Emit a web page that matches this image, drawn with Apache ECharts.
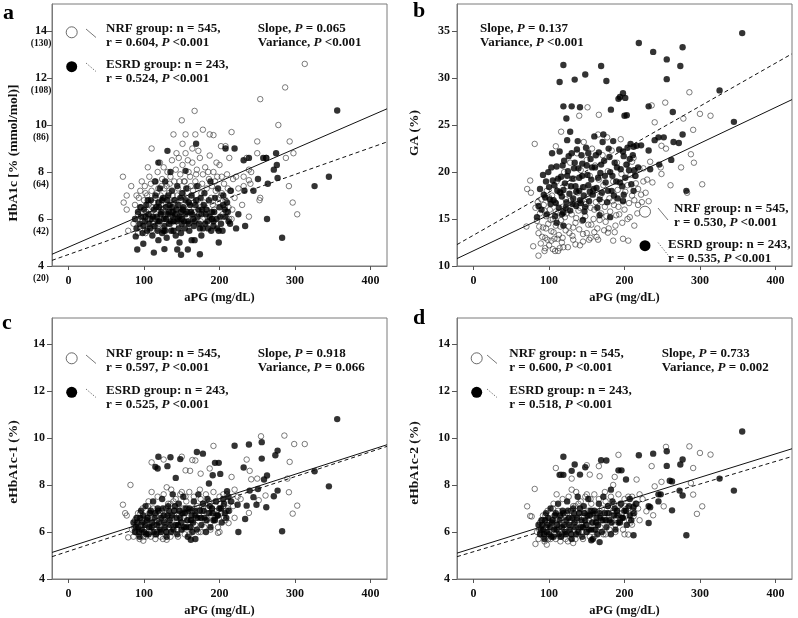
<!DOCTYPE html>
<html>
<head>
<meta charset="utf-8">
<script src="https://cdn.jsdelivr.net/npm/echarts@6/dist/echarts.min.js"></script>
<style>
  html, body { margin: 0; padding: 0; background: #fff; }
  #main { width: 798px; height: 618px; }
</style>
</head>
<body>
<div id="main"></div>
<script>
// tick values
var xTicks = [0, 100, 200, 300, 400];
var hbTicks = [4, 6, 8, 10, 12, 14];
var hbMmol = [20, 42, 64, 86, 108, 130];
var gaTicks = [10, 15, 20, 25, 30, 35];

// panel a: aPG vs HbA1c
var aNrf = [[313,12.6],[287,11.6],[254,11.1],[167,10.6],[150,10.2],[139,9.6],[178,9.8],[187,9.6],[155,9.6],[168,9.6],[216,9.7],[278,10.0],[110,9.0],[151,9.2],[164,9.0],[202,9.1],[208,9.1],[250,9.3],[293,9.3],[298,8.8],[250,8.8],[236,8.6],[262,8.6],[288,8.6],[213,8.6],[292,7.4],[253,6.8],[254,6.9],[297,6.7],[303,6.2],[239,6.1],[72,7.8],[83,7.4],[77,7.0],[73,6.7],[77,6.4],[79,5.5],[239,7.65],[242,8.0],[232,7.8],[192,9.57],[222,7.8],[239,8.1],[209,6.3],[213,6.0],[203,7.1],[232,7.4],[241,7.5],
  [88,6.6],[90,7.0],[92,6.2],[95,7.2],[96,6.5],[98,5.9],[100,6.8],[101,7.4],[103,6.3],[104,7.0],[106,6.6],[107,7.8],[108,6.0],[110,7.2],[111,6.5],[112,5.8],[114,7.6],[115,6.9],[116,6.2],[118,8.0],[119,7.3],[120,6.7],[121,5.9],[122,7.0],[124,7.7],[125,6.4],[126,8.2],[127,6.9],[128,6.1],[130,7.4],[131,8.0],[132,6.6],[133,7.1],[135,7.8],[136,6.3],[137,8.5],[138,7.0],[140,7.6],[141,6.8],[142,8.1],[143,6.2],[145,7.3],[146,8.6],[147,6.6],[148,7.9],[150,7.1],[151,8.3],[152,6.4],[154,7.6],[155,8.8],[156,6.9],[158,7.3],[159,8.0],[160,6.5],[161,7.8],[163,6.9],[164,8.4],[165,7.2],[167,6.3],[168,7.6],[170,8.1],[171,6.8],[172,7.4],[174,8.6],[175,6.5],[176,7.1],[178,7.9],[180,6.7],[181,8.2],[183,7.3],[184,6.1],[186,7.7],[187,8.7],[189,6.9],[190,7.4],[192,8.0],[193,6.4],[195,7.2],[197,7.8],[198,6.7],[200,8.3],[202,7.0],[204,6.2],[206,7.5],[208,6.8],[210,7.9],[212,6.5],[214,7.2],[216,6.0],[218,7.7],[220,6.9],[225,7.3],[230,6.6],[95,5.6],[102,5.4],[110,5.5],[125,5.6],[140,5.7],[160,5.8],[175,5.9],[190,6.0],[205,6.1],[150,6.0],[135,5.8],[118,5.6],[86,5.8],[92,5.4]];
var aNrfCore = [[93,6.9],[97,7.6],[99,6.1],[102,7.1],[105,6.0],[109,7.5],[113,6.7],[117,7.1],[119,5.8],[123,6.6],[127,7.3],[129,6.2],[134,7.5],[139,6.5],[144,7.0],[149,6.8],[153,7.6],[157,6.1],[162,7.4],[166,6.7],[169,7.9],[173,6.2],[177,7.5],[182,6.4],[185,8.0],[191,6.6],[194,7.6],[199,6.9],[203,7.8],[207,6.5],[211,7.3],[217,6.4],[105,8.2],[121,8.4],[143,8.8],[158,8.5],[172,8.9],[196,8.4],[123,7.4],[147,7.6]];
var aEsrd = [[356,10.62],[131,8.9],[169,9.2],[208,9.0],[220,9.0],[275,8.8],[262,8.6],[258,8.6],[232,8.5],[239,8.6],[276,8.3],[272,8.1],[277,7.75],[264,7.5],[251,7.7],[245,7.2],[233,7.2],[326,7.4],[345,7.8],[263,6.0],[283,5.2],[234,5.7],[222,5.6],[225,6.2],[119,8.4],[155,8.05],[135,8.0],[115,7.6],[91,4.7],[113,4.57],[127,4.72],[144,4.7],[149,4.48],[158,4.7],[174,4.5],[163,5.1],[167,5.1],[199,5.0],[199,5.5],[176,5.3],[147,5.0],[119,5.1],[99,4.95],[89,5.26],[185,5.6],[192,5.9],[205,6.6],[190,6.0],
  [88,6.0],[90,5.6],[92,6.3],[94,5.8],[96,6.1],[98,5.4],[100,6.4],[101,5.9],[103,6.6],[104,5.5],[106,6.2],[107,5.8],[109,6.8],[110,6.0],[111,5.3],[113,6.4],[114,5.7],[115,7.0],[117,6.1],[118,5.5],[119,6.7],[120,5.9],[121,7.3],[123,6.3],[124,5.4],[125,6.9],[126,6.0],[127,5.7],[128,7.6],[129,6.5],[130,5.2],[131,6.2],[132,7.0],[133,5.8],[134,6.6],[136,5.5],[137,7.2],[138,6.1],[139,5.9],[140,6.8],[142,5.3],[143,6.4],[144,7.4],[145,6.0],[146,5.6],[148,6.9],[149,6.3],[150,5.8],[151,7.1],[152,6.5],[154,5.6],[155,6.2],[156,7.3],[158,5.9],[159,6.7],[160,5.5],[162,6.3],[163,7.0],[165,6.0],[166,5.7],[168,6.6],[170,7.4],[171,6.1],[173,5.8],[175,6.9],[177,6.4],[178,5.6],[180,7.1],[182,6.2],[184,5.9],[186,6.8],[188,7.6],[190,6.3],[192,5.7],[194,6.9],[196,6.0],[198,7.3],[200,6.5],[202,5.8],[205,7.0],[207,6.4],[210,6.7],[212,5.9],[215,7.2]];
var aEsrdCore = [[95,6.5],[99,5.7],[102,6.1],[105,6.8],[108,5.6],[112,6.1],[116,6.5],[118,5.9],[122,6.2],[124,6.8],[126,5.5],[129,6.0],[131,6.8],[133,6.3],[135,5.9],[137,6.5],[139,5.5],[141,6.2],[143,5.9],[145,6.6],[147,6.1],[149,5.4],[151,6.4],[153,5.9],[155,6.8],[157,6.3],[159,5.8],[161,6.6],[164,6.2],[167,5.9],[169,6.8],[172,6.4],[174,5.6],[176,6.2],[179,6.6],[181,5.8],[183,6.4],[187,6.1],[189,5.5],[193,6.3],[197,5.6],[201,6.1],[204,5.5],[208,6.1],[211,6.3],[214,5.8],[120,6.5],[128,5.5],[138,6.3],[150,6.0]];
var aFitNrf = [[-22,4.5],[422,10.69]];
var aFitEsrd = [[-22,4.24],[422,9.28]];

// panel b: aPG vs GA
var bNrf = [[286,28.5],[300,26.2],[314,26.0],[254,27.4],[236,27.1],[151,26.9],[166,26.1],[140,26.0],[116,24.3],[109,22.75],[81,23.0],[278,25.7],[291,24.5],[240,25.3],[249,22.8],[255,22.5],[288,21.9],[292,21.0],[275,20.5],[248,20.5],[234,21.1],[237,18.9],[249,19.8],[261,18.6],[303,18.7],[283,17.8],[232,16.9],[218,18.2],[213,14.3],[204,15.0],[198,12.9],[205,12.7],[185,12.7],[165,12.8],[178,13.55],[189,15.4],[70,14.2],[71,18.2],[76,17.8],[75,19.1],[86,11.1],[79,12.1],[94,11.6],[108,11.6],[119,12.0],[141,12.2],[132,12.8],[103,12.7],[225,20.4],[230,19.2],[215,19.6],[222,17.6],[210,21.1],
  [82,16.2],[84,14.8],[86,13.5],[88,15.6],[89,12.4],[90,17.1],[92,14.1],[93,16.5],[95,13.0],[96,15.3],[97,18.0],[99,14.5],[100,12.2],[101,16.0],[103,13.7],[104,17.5],[105,15.0],[107,12.9],[108,16.8],[109,14.3],[110,19.0],[112,15.7],[113,13.3],[114,17.9],[116,14.9],[117,12.5],[118,16.3],[120,20.0],[121,15.2],[122,13.8],[124,18.5],[125,16.0],[126,14.2],[128,21.0],[129,17.0],[130,15.5],[131,13.2],[133,19.3],[134,16.6],[135,14.6],[137,22.0],[138,17.8],[139,15.9],[140,13.9],[142,20.2],[143,16.9],[144,14.8],[146,23.2],[147,18.4],[148,15.3],[150,21.3],[151,17.3],[152,14.4],[154,19.6],[155,16.2],[157,22.5],[158,18.0],[159,15.0],[161,20.7],[162,16.8],[164,14.0],[165,24.0],[166,19.2],[168,17.5],[169,15.6],[171,21.8],[172,18.6],[174,16.3],[175,14.7],[177,23.7],[178,20.1],[180,17.2],[181,15.8],[183,22.3],[185,19.0],[186,16.5],[188,14.3],[190,21.0],[191,18.1],[193,15.5],[195,23.5],[196,19.8],[198,17.0],[200,16.0],[202,20.8],[204,18.6],[206,16.7],[208,19.7],[210,17.5],[212,21.5],[215,18.8],[218,16.5],[220,20.3],[225,19.0],[228,17.8],[105,11.8],[112,11.6],[125,12.0],[135,12.3],[145,12.6],[155,13.0],[95,11.9],[150,13.5],[160,13.6]];
var bNrfCore = [[85,16.8],[87,14.2],[91,13.1],[94,15.9],[98,12.8],[100,17.3],[102,14.9],[106,13.6],[109,15.8],[111,12.9],[115,14.2],[118,13.0],[122,17.1],[123,15.6],[127,13.5],[132,14.1],[136,15.1],[141,16.2],[145,13.4],[149,16.6],[153,12.8],[156,14.4],[160,16.0],[163,13.1],[167,14.9],[170,16.8],[173,13.8],[176,15.3],[179,14.0],[184,16.9],[187,13.6],[192,16.3],[197,14.6],[201,17.9],[207,15.2],[213,17.0],[217,15.6],[223,16.8],[96,14.0],[114,11.9]];
var bEsrd = [[356,34.8],[219,33.75],[238,32.8],[256,32.0],[277,33.3],[274,31.3],[256,29.9],[119,31.4],[169,31.3],[148,30.4],[114,29.6],[134,29.85],[176,29.7],[198,28.4],[201,27.9],[192,27.8],[194,28.0],[119,27.0],[130,27.0],[141,26.9],[182,26.65],[203,26.05],[200,26.0],[232,27.0],[264,26.4],[123,25.7],[128,24.3],[326,28.7],[345,25.35],[245,23.7],[252,23.7],[265,23.2],[272,23.1],[277,24.0],[240,23.4],[232,22.3],[222,22.85],[208,23.0],[212,22.7],[262,21.3],[246,20.8],[234,20.3],[212,18.0],[282,18.0],[199,17.6],[198,16.9],[181,15.2],[167,15.4],[145,14.9],[110,14.6],[119,14.3],[84,15.2],[86,16.4],
  [88,18.2],[90,16.0],[92,19.7],[95,17.3],[97,15.5],[99,20.0],[100,18.4],[102,16.6],[104,22.0],[105,19.1],[106,17.0],[108,15.3],[110,20.6],[111,18.0],[113,16.2],[114,22.2],[116,19.5],[117,17.4],[119,15.7],[120,21.2],[121,18.8],[123,16.8],[124,23.4],[125,20.1],[127,17.7],[128,15.9],[130,22.0],[131,19.3],[132,17.2],[134,21.0],[135,18.5],[136,16.4],[138,23.3],[139,20.4],[140,18.0],[142,16.7],[143,21.8],[144,19.6],[146,17.5],[147,15.8],[149,22.6],[150,20.7],[152,18.6],[153,16.9],[155,21.4],[156,19.2],[158,17.6],[160,23.8],[161,20.5],[163,18.3],[164,16.2],[166,22.1],[168,19.9],[170,17.8],[172,24.0],[173,21.2],[175,18.9],[177,16.8],[179,22.5],[181,20.0],[183,18.0],[185,23.3],[187,21.0],[189,19.0],[191,17.2],[193,22.4],[195,20.3],[197,18.5],[199,21.7],[201,19.4],[204,22.6],[206,20.2],[209,18.7],[211,21.8],[214,19.6],[216,22.8],[218,20.5]];
var bEsrdCore = [[93,17.6],[96,19.0],[101,17.1],[103,20.5],[107,18.6],[109,16.7],[112,19.3],[115,17.8],[118,20.7],[119,18.1],[122,16.2],[124,19.6],[126,21.7],[129,18.5],[131,16.6],[133,20.4],[136,17.9],[137,22.4],[140,19.4],[141,17.0],[144,20.9],[145,18.4],[148,16.3],[151,19.7],[152,22.0],[154,17.9],[157,20.5],[159,18.2],[162,21.8],[165,19.4],[167,17.1],[169,20.8],[171,23.2],[174,19.6],[178,18.0],[180,21.6],[184,19.6],[186,17.5],[190,20.5],[194,18.9],[198,22.2],[203,20.8],[207,21.4],[213,20.2],[117,15.5]];
var bFitNrf = [[-22,10.79],[422,27.72]];
var bFitEsrd = [[-22,12.28],[422,32.6]];

// panel c: aPG vs eHbA1c-1
var cNrf = [[286,10.1],[255,10.07],[299,9.74],[313,9.74],[192,9.66],[164,9.06],[168,9.04],[150,9.2],[126,9.08],[110,8.96],[236,9.08],[293,8.98],[290,8.27],[242,8.24],[250,8.27],[240,8.6],[216,8.34],[187,8.7],[155,8.62],[175,8.48],[161,8.6],[82,8.0],[72,7.16],[75,6.8],[77,6.7],[261,7.55],[292,7.69],[303,7.12],[297,6.78],[239,6.81],[252,7.35],[209,6.9],[212,6.38],[198,5.96],[130,5.67],[99,5.63],[79,5.77],[205,7.6],[220,7.8],[228,7.4],
  [84,6.1],[86,5.8],[88,6.5],[90,6.0],[92,6.8],[94,5.7],[96,6.3],[98,7.0],[100,6.1],[102,5.8],[104,6.6],[106,7.3],[108,6.0],[110,6.4],[112,7.0],[114,5.9],[116,6.7],[118,7.5],[120,6.2],[122,5.8],[124,6.9],[126,7.6],[128,6.3],[130,6.0],[132,7.2],[134,6.6],[136,7.8],[138,6.2],[140,6.9],[142,7.4],[144,6.1],[146,6.7],[148,7.6],[150,6.4],[152,7.0],[154,5.9],[156,7.3],[158,6.5],[160,7.7],[162,6.2],[164,6.9],[166,7.5],[168,6.3],[170,7.1],[172,6.0],[174,7.8],[176,6.6],[178,7.2],[180,6.2],[182,7.6],[184,6.8],[186,7.3],[188,6.4],[190,7.0],[192,7.7],[194,6.6],[196,7.3],[198,6.2],[200,7.5],[202,6.8],[205,7.1],[208,6.5],[210,7.6],[213,6.9],[216,7.3],[220,6.6],[224,7.5],[95,6.8],[105,7.1],[115,5.7],[125,5.7],[135,5.8],[145,5.8],[160,5.9],[175,6.0],[188,6.1],[200,6.0],[110,7.7],[130,7.9],[150,7.7]];
var cNrfCore = [[87,6.2],[91,6.6],[93,5.9],[97,6.5],[99,5.8],[103,6.3],[107,6.8],[109,5.8],[113,6.3],[117,6.0],[121,6.8],[123,6.1],[127,6.5],[129,7.0],[133,6.2],[137,6.6],[139,7.3],[143,6.4],[147,6.9],[149,6.1],[153,6.6],[157,7.0],[159,6.2],[163,6.5],[167,7.0],[169,6.6],[173,6.7],[177,6.9],[181,6.5],[185,7.0],[189,6.7],[193,6.9],[197,6.9],[201,7.2],[206,6.6],[211,7.0],[218,7.1],[135,7.2],[155,7.5],[175,7.4]];
var cEsrd = [[356,10.8],[220,9.67],[239,9.72],[256,9.82],[277,9.46],[274,9.26],[256,9.12],[170,9.4],[178,9.33],[148,9.1],[135,9.18],[119,9.2],[115,8.77],[118,8.7],[131,8.8],[142,8.3],[194,8.94],[199,8.94],[201,8.47],[191,8.41],[186,8.06],[232,8.74],[259,8.23],[263,8.4],[326,8.58],[345,7.94],[277,7.76],[272,7.52],[245,7.48],[240,7.76],[251,7.83],[249,7.16],[236,7.12],[234,6.55],[262,7.05],[224,7.16],[225,6.0],[283,6.03],[210,7.73],[162,5.67],[168,5.7],[205,7.4],[212,7.5],
  [86,6.4],[88,6.0],[90,6.6],[92,6.2],[94,5.8],[96,6.9],[98,6.4],[100,6.0],[102,7.1],[104,6.5],[106,5.9],[108,6.8],[110,6.2],[112,7.3],[114,6.6],[116,5.9],[118,7.0],[120,6.4],[122,6.0],[124,7.4],[126,6.7],[128,6.2],[130,5.8],[132,7.1],[134,6.5],[136,6.0],[138,7.6],[140,6.9],[142,6.3],[144,5.9],[146,7.2],[148,6.6],[150,6.1],[152,7.5],[154,6.8],[156,6.2],[158,5.8],[160,7.0],[162,6.5],[164,6.0],[166,7.3],[168,6.7],[170,6.1],[172,7.6],[174,6.9],[176,6.3],[178,7.2],[180,6.6],[182,6.0],[184,7.4],[186,6.8],[188,6.2],[190,7.0],[192,6.5],[195,7.3],[197,6.7],[200,7.0],[203,6.4],[206,7.2],[209,6.6],[212,6.9],[215,7.3]];
var cEsrdCore = [[89,6.2],[91,6.4],[93,6.0],[95,6.6],[97,6.1],[99,6.7],[101,6.3],[103,5.9],[105,6.6],[107,6.2],[109,6.9],[111,6.4],[113,6.0],[115,6.8],[117,6.3],[119,6.9],[121,6.1],[123,6.6],[125,7.0],[127,6.4],[129,6.0],[131,6.7],[133,6.9],[135,6.3],[137,6.7],[139,6.1],[141,7.1],[143,6.6],[145,6.3],[147,6.9],[149,6.4],[151,6.8],[153,6.2],[155,7.0],[157,6.5],[159,6.9],[161,6.2],[163,6.7],[165,6.4],[167,6.9],[171,6.6],[175,6.6],[179,6.9],[183,6.5],[187,7.1],[191,6.8],[194,6.5],[198,6.7],[202,7.0],[207,6.8]];
var cFitNrf = [[-22,5.13],[422,9.71]];
var cFitEsrd = [[-22,4.95],[422,9.64]];

// panel d: aPG vs eHbA1c-2
var dNrf = [[286,9.64],[255,9.62],[300,9.36],[314,9.29],[192,9.28],[166,8.8],[150,8.84],[109,8.72],[116,8.44],[236,8.8],[291,8.72],[288,8.08],[249,8.13],[240,7.94],[216,8.23],[187,8.34],[185,8.0],[154,8.44],[130,8.27],[167,8.37],[81,7.83],[71,7.09],[75,6.68],[77,6.66],[291,7.59],[303,7.09],[296,6.77],[238,6.71],[252,7.09],[229,6.88],[212,6.67],[210,6.31],[205,5.89],[132,5.53],[97,5.46],[82,5.49],[205,7.5],[220,7.6],
  [84,6.0],[86,5.7],[88,6.4],[90,5.9],[92,6.7],[94,5.6],[96,6.2],[98,6.9],[100,6.0],[102,5.7],[104,6.5],[106,7.2],[108,5.9],[110,6.3],[112,6.9],[114,5.8],[116,6.6],[118,7.4],[120,6.1],[122,5.7],[124,6.8],[126,7.5],[128,6.2],[130,5.9],[132,7.1],[134,6.5],[136,7.7],[138,6.1],[140,6.8],[142,7.3],[144,6.0],[146,6.6],[148,7.5],[150,6.3],[152,6.9],[154,5.8],[156,7.2],[158,6.4],[160,7.6],[162,6.1],[164,6.8],[166,7.4],[168,6.2],[170,7.0],[172,5.9],[174,7.7],[176,6.5],[178,7.1],[180,6.1],[182,7.5],[184,6.7],[186,7.2],[188,6.3],[190,6.9],[192,7.6],[194,6.5],[196,7.2],[198,6.1],[200,7.4],[202,6.7],[205,7.0],[208,6.4],[210,7.5],[213,6.8],[216,7.2],[220,6.5],[224,7.4],[95,6.7],[105,7.0],[115,5.6],[125,5.6],[135,5.7],[145,5.7],[160,5.8],[175,5.9],[188,6.0],[200,5.9],[110,7.6],[130,7.8],[150,7.6]];
var dNrfCore = [[87,6.1],[91,6.5],[93,5.8],[97,6.4],[99,5.7],[103,6.2],[107,6.7],[109,5.7],[113,6.2],[117,5.9],[121,6.7],[123,6.0],[127,6.4],[129,6.9],[133,6.1],[137,6.5],[139,7.2],[143,6.3],[147,6.8],[149,6.0],[153,6.5],[157,6.9],[159,6.1],[163,6.4],[167,6.9],[169,6.5],[173,6.6],[177,6.8],[181,6.4],[185,6.9],[189,6.6],[193,6.8],[197,6.8],[201,7.1],[206,6.5],[211,6.9],[218,7.0],[135,7.1],[155,7.4],[175,7.3]];
var dEsrd = [[356,10.27],[219,9.26],[238,9.33],[256,9.43],[256,8.81],[277,9.08],[274,8.87],[169,9.05],[176,9.04],[148,8.75],[134,8.87],[119,9.2],[114,8.43],[119,8.43],[130,8.6],[141,8.44],[192,8.62],[196,8.62],[202,8.23],[182,7.8],[326,8.27],[345,7.76],[273,7.76],[277,7.55],[260,8.18],[263,8.15],[245,7.6],[248,7.6],[245,7.3],[232,7.1],[234,7.05],[232,6.38],[263,6.92],[212,7.05],[207,7.4],[212,5.86],[282,5.86],[167,5.57],[156,5.65],
  [86,6.3],[88,5.9],[90,6.5],[92,6.1],[94,5.7],[96,6.8],[98,6.3],[100,5.9],[102,7.0],[104,6.4],[106,5.8],[108,6.7],[110,6.1],[112,7.2],[114,6.5],[116,5.8],[118,6.9],[120,6.3],[122,5.9],[124,7.3],[126,6.6],[128,6.1],[130,5.7],[132,7.0],[134,6.4],[136,5.9],[138,7.5],[140,6.8],[142,6.2],[144,5.8],[146,7.1],[148,6.5],[150,6.0],[152,7.4],[154,6.7],[156,6.1],[158,5.7],[160,6.9],[162,6.4],[164,5.9],[166,7.2],[168,6.6],[170,6.0],[172,7.5],[174,6.8],[176,6.2],[178,7.1],[180,6.5],[182,5.9],[184,7.3],[186,6.7],[188,6.1],[190,6.9],[192,6.4],[195,7.2],[197,6.6],[200,6.9],[203,6.3],[206,7.1],[209,6.5],[212,6.8],[215,7.2]];
var dEsrdCore = [[89,6.1],[91,6.3],[93,5.9],[95,6.5],[97,6.0],[99,6.6],[101,6.2],[103,5.8],[105,6.5],[107,6.1],[109,6.8],[111,6.3],[113,5.9],[115,6.7],[117,6.2],[119,6.8],[121,6.0],[123,6.5],[125,6.9],[127,6.3],[129,5.9],[131,6.6],[133,6.8],[135,6.2],[137,6.6],[139,6.0],[141,7.0],[143,6.5],[145,6.2],[147,6.8],[149,6.3],[151,6.7],[153,6.1],[155,6.9],[157,6.4],[159,6.8],[161,6.1],[163,6.6],[165,6.3],[167,6.8],[171,6.5],[175,6.5],[179,6.8],[183,6.4],[187,7.0],[191,6.7],[194,6.4],[198,6.6],[202,6.9],[207,6.7]];
var dFitNrf = [[-22,5.1],[422,9.54]];
var dFitEsrd = [[-22,4.95],[422,9.21]];

var FONT = '"Liberation Serif", "Times New Roman", serif';
var myChart = echarts.init(document.getElementById('main'), null, { renderer: 'canvas' });

var grids = [
  { left: 52, top: 4, width: 335, height: 262 },
  { left: 457, top: 4, width: 335, height: 262 },
  { left: 52, top: 318, width: 335, height: 261 },
  { left: 457, top: 318, width: 335, height: 261 }
];
grids.forEach(function (g) {
  g.show = true;
  g.borderColor = '#7a7a7a';
  g.borderWidth = 1;
  g.backgroundColor = 'transparent';
  g.outerBoundsMode = 'none';
});

var xAxes = grids.map(function (g, i) {
  return {
    gridIndex: i, type: 'value', min: -22, max: 422,
    axisLine: { show: true, onZero: false, lineStyle: { color: '#7a7a7a' } },
    axisTick: { show: true, customValues: xTicks, length: 4, lineStyle: { color: '#555' } },
    axisLabel: { customValues: xTicks, margin: 9, color: '#111', fontFamily: FONT, fontWeight: 'bold', fontSize: 12 },
    splitLine: { show: false },
    name: 'aPG (mg/dL)', nameLocation: 'middle', nameGap: 25,
    nameTextStyle: { color: '#111', fontFamily: FONT, fontWeight: 'bold', fontSize: 12.5 }
  };
});

// y-axis titles are drawn as rotated graphic text so they can sit off-centre like the original
function yAxis(i, min, max, ticks, label) {
  return {
    gridIndex: i, type: 'value', min: min, max: max,
    axisLine: { show: true, onZero: false, lineStyle: { color: '#7a7a7a' } },
    axisTick: { show: true, customValues: ticks, length: 5, lineStyle: { color: '#555' } },
    axisLabel: Object.assign({ customValues: ticks, color: '#111', fontFamily: FONT, fontWeight: 'bold', fontSize: 12 }, label),
    splitLine: { show: false }
  };
}

var hbLabel = {
  align: 'center', margin: 11,
  formatter: function (v) {
    var k = hbTicks.indexOf(v);
    return '{e| }\n{n|' + v + '}\n{p|(' + hbMmol[k] + ')}';
  },
  rich: {
    e: { fontSize: 10, lineHeight: 12.5 },
    n: { fontSize: 12, lineHeight: 12.5, fontWeight: 'bold', fontFamily: FONT, color: '#111' },
    p: { fontSize: 9.5, lineHeight: 12.5, fontWeight: 'bold', fontFamily: FONT, color: '#111' }
  }
};

var yAxes = [
  yAxis(0, 4, 15.15, hbTicks, hbLabel),
  yAxis(1, 10, 37.9, gaTicks, { margin: 7 }),
  yAxis(2, 4, 15.1, hbTicks, { margin: 7 }),
  yAxis(3, 4, 15.1, hbTicks, { margin: 7 })
];

var panels = [
  [aNrf.concat(aNrfCore), aEsrd.concat(aEsrdCore), aFitNrf, aFitEsrd],
  [bNrf.concat(bNrfCore), bEsrd.concat(bEsrdCore), bFitNrf, bFitEsrd],
  [cNrf.concat(cNrfCore), cEsrd.concat(cEsrdCore), cFitNrf, cFitEsrd],
  [dNrf.concat(dNrfCore), dEsrd.concat(dEsrdCore), dFitNrf, dFitEsrd]
];

var series = [];
panels.forEach(function (p, i) {
  series.push({
    type: 'scatter', xAxisIndex: i, yAxisIndex: i, data: p[0], symbol: 'circle', symbolSize: 5.5,
    itemStyle: { color: 'rgba(255,255,255,0)', borderColor: '#333', borderWidth: 0.8 }, silent: true, z: 2
  });
  series.push({
    type: 'scatter', xAxisIndex: i, yAxisIndex: i, data: p[1], symbol: 'circle', symbolSize: 6.4,
    itemStyle: { color: '#000' }, silent: true, z: 3
  });
  series.push({
    type: 'line', xAxisIndex: i, yAxisIndex: i, data: p[2], showSymbol: false, silent: true, z: 4,
    lineStyle: { color: '#111', width: 1, type: 'solid' }
  });
  series.push({
    type: 'line', xAxisIndex: i, yAxisIndex: i, data: p[3], showSymbol: false, silent: true, z: 4,
    lineStyle: { color: '#111', width: 1, type: [4, 3] }
  });
});

// annotation text
var richP = {
  i: { fontStyle: 'italic', fontWeight: 'bold', fontFamily: FONT, fontSize: 13, fill: '#111' }
};
function txt(x, y, s) {
  return {
    type: 'text', x: x, y: y, z: 10,
    style: { text: s, rich: richP, font: 'bold 13px ' + FONT, fill: '#111', lineHeight: 14, verticalAlign: 'top' }
  };
}
function title(x, y, s) {
  return {
    type: 'text', x: x, y: y, z: 10,
    style: { text: s, font: 'bold 22px ' + FONT, fill: '#000', verticalAlign: 'middle' }
  };
}
function yTitle(x, y, s) {
  return {
    type: 'text', x: x, y: y, rotation: Math.PI / 2, z: 10,
    style: { text: s, font: 'bold 13.5px ' + FONT, fill: '#111', align: 'center', verticalAlign: 'middle' }
  };
}
function dot(cx, cy, filled) {
  return {
    type: 'circle', z: 10, shape: { cx: cx, cy: cy, r: 5.5 },
    style: filled ? { fill: '#000' } : { fill: '#fff', stroke: '#444', lineWidth: 0.8 }
  };
}
function seg(x1, y1, x2, y2, dashed) {
  return {
    type: 'line', z: 10, shape: { x1: x1, y1: y1, x2: x2, y2: y2 },
    style: { stroke: '#555', lineWidth: 0.8, lineDash: dashed ? [1.5, 1.5] : null }
  };
}

var graphics = [
  title(3, 13, 'a'), title(413, 11, 'b'), title(2, 323, 'c'), title(413, 318, 'd'),
  yTitle(14, 153, 'HbA1c [% (mmol/mol)]'),
  yTitle(415, 133, 'GA (%)'),
  yTitle(14, 462, 'eHbA1c-1 (%)'),
  yTitle(415, 463, 'eHbA1c-2 (%)'),
  // a
  dot(71.7, 32.3, false), seg(86, 29, 96, 37.5, false),
  dot(71.7, 66.7, true), seg(86, 63, 96, 71.5, true),
  txt(106, 21.5, 'NRF group: n = 545,\nr = 0.604, {i|P} <0.001'),
  txt(106, 58, 'ESRD group: n = 243,\nr = 0.524, {i|P} <0.001'),
  txt(257.7, 21.5, 'Slope, {i|P} = 0.065\nVariance, {i|P} <0.001'),
  // b
  txt(480, 21.3, 'Slope, {i|P} = 0.137\nVariance, {i|P} <0.001'),
  dot(645, 211.7, false), seg(658, 208, 668, 220, false),
  dot(645, 245.7, true), seg(658, 242.5, 668, 255, true),
  txt(674, 201.3, 'NRF group: n = 545,\nr = 0.530, {i|P} <0.001'),
  txt(668, 238, 'ESRD group: n = 243,\nr = 0.535, {i|P} <0.001'),
  // c
  dot(71.7, 358.3, false), seg(86, 355, 96, 363.5, false),
  dot(71.7, 392.3, true), seg(86, 389, 96, 397.5, true),
  txt(106, 347, 'NRF group: n = 545,\nr = 0.597, {i|P} <0.001'),
  txt(106, 384, 'ESRD group: n = 243,\nr = 0.525, {i|P} <0.001'),
  txt(257.7, 347, 'Slope, {i|P} = 0.918\nVariance, {i|P} = 0.066'),
  // d
  dot(476.7, 358.3, false), seg(487, 355, 497, 363.5, false),
  dot(476.7, 392.3, true), seg(487, 389, 497, 397.5, true),
  txt(509.3, 347, 'NRF group: n = 545,\nr = 0.600, {i|P} <0.001'),
  txt(509.3, 384, 'ESRD group: n = 243,\nr = 0.518, {i|P} <0.001'),
  txt(661.7, 347, 'Slope, {i|P} = 0.733\nVariance, {i|P} = 0.002')
];

var option = {
  animation: false,
  backgroundColor: '#fff',
  grid: grids,
  xAxis: xAxes,
  yAxis: yAxes,
  series: series,
  graphic: graphics
};

myChart.setOption(option);
</script>
</body>
</html>
